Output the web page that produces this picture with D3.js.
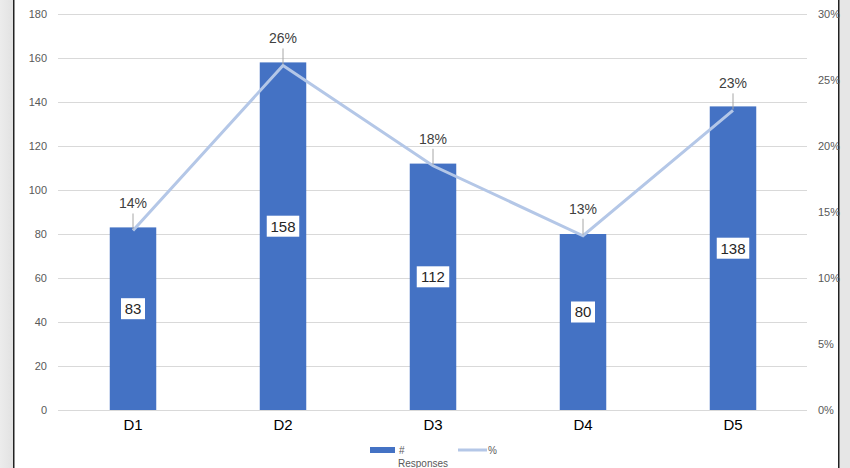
<!DOCTYPE html>
<html><head><meta charset="utf-8">
<script src="https://cdn.jsdelivr.net/npm/d3@7"></script>
<style>
html,body{margin:0;padding:0;background:#fff;}
svg{display:block;font-family:Arial,"Liberation Sans",sans-serif;}
.tk text{fill:#595959;font-size:11px;font-family:Arial,"Liberation Sans",sans-serif;}
</style></head>
<body>
<svg id="c" width="850" height="468"></svg>
<script>
const categories = ["D1","D2","D3","D4","D5"];
const responses = [83,158,112,80,138];
const percents = [0.136,0.261,0.185,0.132,0.227];
const percentLabels = ["14%","26%","18%","13%","23%"];
const leftTicks = [0,20,40,60,80,100,120,140,160,180];
const rightTicks = [0,0.05,0.10,0.15,0.20,0.25,0.30];
const legendItems = ["#","%"];
const legendTitle = "Responses";

const svg = d3.select("#c");
const W = 850, H = 468;

// frame
const g0 = svg.append("g");
const grad = svg.append("defs").append("linearGradient").attr("id","lg").attr("x1","0").attr("x2","1");
grad.append("stop").attr("offset","0").attr("stop-color","#ececec");
grad.append("stop").attr("offset","1").attr("stop-color","#e2e2e2");
g0.append("rect").attr("x",0).attr("y",0).attr("width",13).attr("height",H).attr("fill","url(#lg)");
g0.append("rect").attr("x",13).attr("y",0).attr("width",1.5).attr("height",H).attr("fill","#222");
g0.append("rect").attr("x",839).attr("y",0).attr("width",11).attr("height",H).attr("fill","#e6e6e6");
g0.append("rect").attr("x",838).attr("y",0).attr("width",1.5).attr("height",H).attr("fill","#222");

const x0 = 58, x1 = 808, yTop = 14, yBot = 410;
const x = d3.scaleBand().domain(categories).range([x0,x1]).paddingInner(0.69).paddingOuter(0.345);
const y = d3.scaleLinear().domain([0,180]).range([yBot,yTop]);
const y2 = d3.scaleLinear().domain([0,0.30]).range([yBot,yTop]);

// gridlines
svg.append("g").selectAll("line").data(leftTicks).join("line")
  .attr("x1",x0).attr("x2",807).attr("y1",d=>y(d)+0.5).attr("y2",d=>y(d)+0.5)
  .attr("stroke","#d9d9d9").attr("stroke-width",1);

// left axis
const la = svg.append("g").attr("class","tk").attr("transform",`translate(${x0},0)`)
  .call(d3.axisLeft(y).tickValues(leftTicks).tickSize(0).tickPadding(11));
la.select(".domain").remove();
la.selectAll("text").attr("fill",null);

// right axis
const ra = svg.append("g").attr("class","tk").attr("transform",`translate(807,0)`)
  .call(d3.axisRight(y2).tickValues(rightTicks).tickSize(0).tickPadding(11).tickFormat(d3.format(".0%")));
ra.select(".domain").remove();
ra.selectAll("text").attr("fill",null);

// bars
svg.append("g").selectAll("rect").data(responses).join("rect")
  .attr("x",(d,i)=>x(categories[i])).attr("width",x.bandwidth())
  .attr("y",d=>y(d)).attr("height",d=>yBot-y(d)).attr("fill","#4472C4");

// category labels
const ba = svg.append("g").attr("transform",`translate(0,${yBot})`)
  .call(d3.axisBottom(x).tickSize(0).tickPadding(9));
ba.select(".domain").remove();
ba.selectAll("text").attr("fill","#000").style("font-size","15px").style("font-family","Arial, 'Liberation Sans', sans-serif");

// bar value labels
const vl = svg.append("g").selectAll("g").data(responses).join("g")
  .attr("transform",(d,i)=>`translate(${x(categories[i])+x.bandwidth()/2},${(y(d)+yBot)/2-10})`);
vl.append("rect").attr("x",d=>-(String(d).length*8.5+7)/2).attr("y",-10.5)
  .attr("width",d=>String(d).length*8.5+7).attr("height",21).attr("fill","#fff");
vl.append("text").attr("text-anchor","middle").attr("dy","0.36em")
  .style("font-size","15px").attr("fill","#262626").text(d=>d);

// line
const cx = (i)=>x(categories[i])+x.bandwidth()/2;
const line = d3.line().x((d,i)=>cx(i)).y(d=>y2(d));
svg.append("path").datum(percents).attr("d",line).attr("fill","none")
  .attr("stroke","#B4C7E7").attr("stroke-width",3).attr("stroke-linejoin","miter");

// percent labels with leader lines
const pl = svg.append("g").selectAll("g").data(percents).join("g")
  .attr("transform",(d,i)=>`translate(${cx(i)},${y2(d)})`);
pl.append("line").attr("x1",0).attr("x2",0).attr("y1",-1).attr("y2",-17)
  .attr("stroke","#a6a6a6").attr("stroke-width",1);
pl.append("text").attr("text-anchor","middle").attr("y",-22)
  .style("font-size","14px").attr("fill","#404040").text((d,i)=>percentLabels[i]);

// legend
const lg = svg.append("g");
lg.append("rect").attr("x",370).attr("y",447).attr("width",25).attr("height",6).attr("fill","#4472C4");
lg.append("text").attr("x",399).attr("y",454).style("font-size","10px").attr("fill","#595959").text(legendItems[0]);
lg.append("line").attr("x1",458).attr("x2",487).attr("y1",450).attr("y2",450).attr("stroke","#B4C7E7").attr("stroke-width",3);
lg.append("text").attr("x",488).attr("y",454).style("font-size","10px").attr("fill","#595959").text(legendItems[1]);
lg.append("text").attr("x",398).attr("y",467).style("font-size","10px").attr("fill","#595959").text(legendTitle);
</script>
</body></html>
